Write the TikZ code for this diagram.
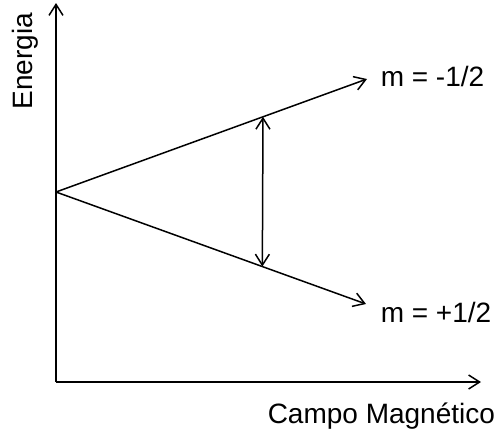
\documentclass[tikz,border=0pt]{standalone}
\usepackage{fontspec}
\setmainfont{Liberation Sans}
\usetikzlibrary{arrows.meta,calc}

\tikzset{
  lbl/.style={inner sep=0pt, font=\fontsize{28}{32}\selectfont},
  >={Straight Barb[length=11pt,width=14pt]}
}

\begin{document}
\begin{tikzpicture}[x=1pt, y=-1pt, line width=1.5pt]
    \useasboundingbox (0,0) rectangle (499,437);
    \coordinate (O) at (56,382); \coordinate (Ytop) at (56,3);
    \coordinate (Xend) at (481,382); \coordinate (B) at (56,192);
    \coordinate (ua) at (367,79); \coordinate (da) at (366,304);
    \node[lbl, anchor=base west] (up) at (380,86)
    {m = -1/2}; \node[lbl, anchor=base west] (down) at (380,322)
    {m = +1/2}; \node[lbl, anchor=base west] (campo) at (267,423)
    {Campo Magnético}; \node[lbl, rotate=90] (energia) at (25,61)
    {Energia};
    \draw[->] (O) -- (Ytop); \draw[->] (O) -- (Xend);
    \draw[->] (B) -- (ua); \draw[->] (B) -- (da);
    \coordinate (t) at ($(B)!0.6656!(ua)$); \coordinate (b) at ($(B)!0.6656!(da)$);
    \draw[<->] (t) -- (b);
  \end{tikzpicture}
\end{document}
